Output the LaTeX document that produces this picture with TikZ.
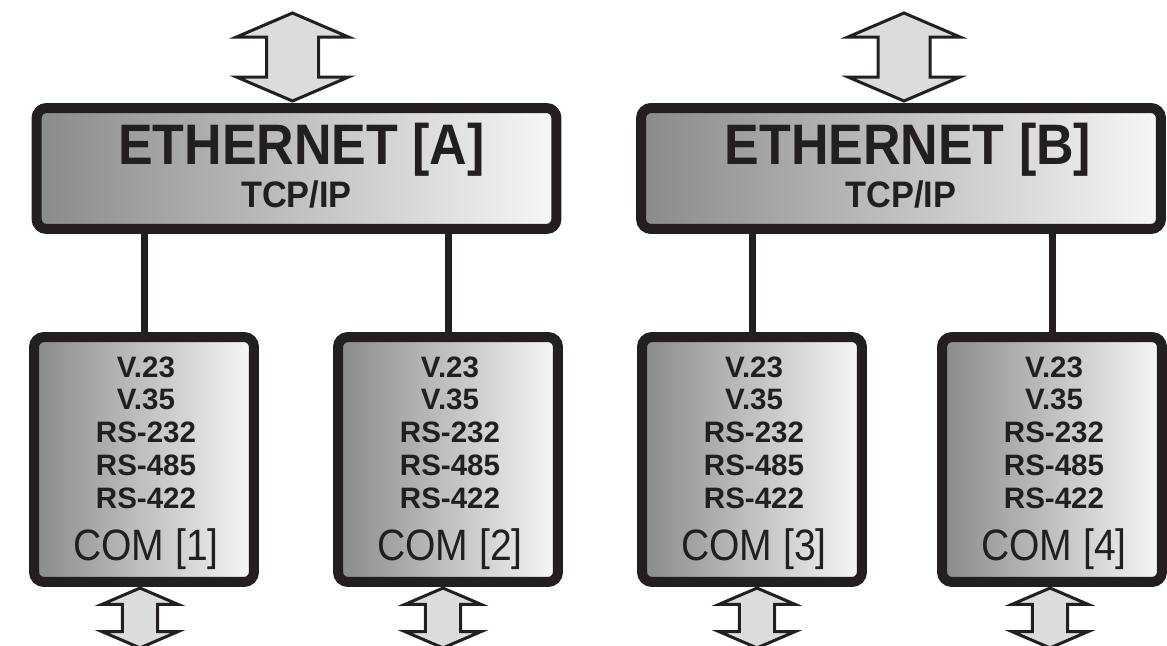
\documentclass[tikz,border=0pt]{standalone}
\usepackage{fontspec}
\setmainfont{Liberation Sans}
\usetikzlibrary{calc}
\definecolor{ink}{HTML}{231F20}
\definecolor{shadeL}{HTML}{8A8A8A}
\definecolor{shadeR}{HTML}{F7F7F7}
\definecolor{arrowfill}{HTML}{DCDCDC}
\newcommand\protolist{V.23\\V.35\\RS-232\\RS-485\\RS-422}

\tikzset{
  ethbox/.style={draw=ink, line width=0.2cm, rounded corners=0.2cm,
    left color=shadeL, right color=shadeR, inner sep=0pt, outer sep=0pt,
    minimum width=10.4cm, minimum height=2.42cm},
  combox/.style={ethbox, minimum width=4.4cm, minimum height=4.9cm},
  link/.style={draw=ink, line width=0.14cm},
  ethtitle/.style={text=ink, anchor=base, inner sep=0pt,
    font={\fontsize{32.5}{36}\selectfont\bfseries}},
  ethsub/.style={text=ink, anchor=base, inner sep=0pt,
    font={\fontsize{21}{24}\selectfont\bfseries}},
  protos/.style={text=ink, anchor=base, inner sep=0pt, align=center,
    font={\fontsize{16.8}{18.6}\selectfont\bfseries}},
  comtitle/.style={text=ink, anchor=base, inner sep=0pt,
    font={\fontsize{25}{28}\selectfont}},
  pics/dblarrow/.style={code={
    \draw[draw=ink, fill=arrowfill, line width=0.06cm]
      (0,-44) -- (56,-20) -- (26,-20) -- (26,20) -- (56,20) -- (0,44)
      -- (-56,20) -- (-26,20) -- (-26,-20) -- (-56,-20) -- cycle;
  }}
}

\begin{document}
\begin{tikzpicture}[x=0.02cm, y=-0.02cm]
\useasboundingbox (0,0) rectangle (1167,646);

% ethernet units
\node[ethbox] (ethA) at (296.5,168.5) {};
\node[ethbox] (ethB) at (901,168.5) {};

% serial ports
\node[combox] (com1) at (144,459.5) {};
\node[combox] (com2) at (448,459.5) {};
\node[combox] (com3) at (752,459.5) {};
\node[combox] (com4) at (1052,459.5) {};

\draw[link] (com1.north) -- (com1.north |- ethA.south);
\draw[link] (com2.north) -- (com2.north |- ethA.south);
\draw[link] (com3.north) -- (com3.north |- ethB.south);
\draw[link] (com4.north) -- (com4.north |- ethB.south);

\node[ethtitle] (titleA) at ($(ethA.north)+(5,56)$) {\scalebox{0.91}[1]{ETHERNET [A]}};
\node[ethsub] (subA) at ($(ethA.north)+(0,99)$) {\scalebox{0.93}[1]{TCP/IP}};
\node[ethtitle] (titleB) at ($(ethB.north)+(7,56)$) {\scalebox{0.91}[1]{ETHERNET [B]}};
\node[ethsub] (subB) at ($(ethB.north)+(0,99)$) {\scalebox{0.93}[1]{TCP/IP}};

\node[protos] (list1) at ($(com1.north)+(2,171)$) {\protolist};
\node[protos] (list2) at ($(com2.north)+(2,171)$) {\protolist};
\node[protos] (list3) at ($(com3.north)+(2,171)$) {\protolist};
\node[protos] (list4) at ($(com4.north)+(2,171)$) {\protolist};

\node[comtitle] (name1) at ($(com1.north)+(2,223)$) {\scalebox{0.89}[1]{COM [1]}};
\node[comtitle] (name2) at ($(com2.north)+(2,223)$) {\scalebox{0.89}[1]{COM [2]}};
\node[comtitle] (name3) at ($(com3.north)+(2,223)$) {\scalebox{0.89}[1]{COM [3]}};
\node[comtitle] (name4) at ($(com4.north)+(2,223)$) {\scalebox{0.89}[1]{COM [4]}};

% double arrows
\pic at ($(ethA.north)+(-4,-51)$) {dblarrow};
\pic at ($(ethB.north)+(3,-51)$) {dblarrow};
\pic[scale=0.68] at ($(com1.south)+(-4,36)$) {dblarrow};
\pic[scale=0.68] at ($(com2.south)+(-5,36)$) {dblarrow};
\pic[scale=0.68] at ($(com3.south)+(5,36)$) {dblarrow};
\pic[scale=0.68] at ($(com4.south)+(-2,36)$) {dblarrow};

\end{tikzpicture}
\end{document}
